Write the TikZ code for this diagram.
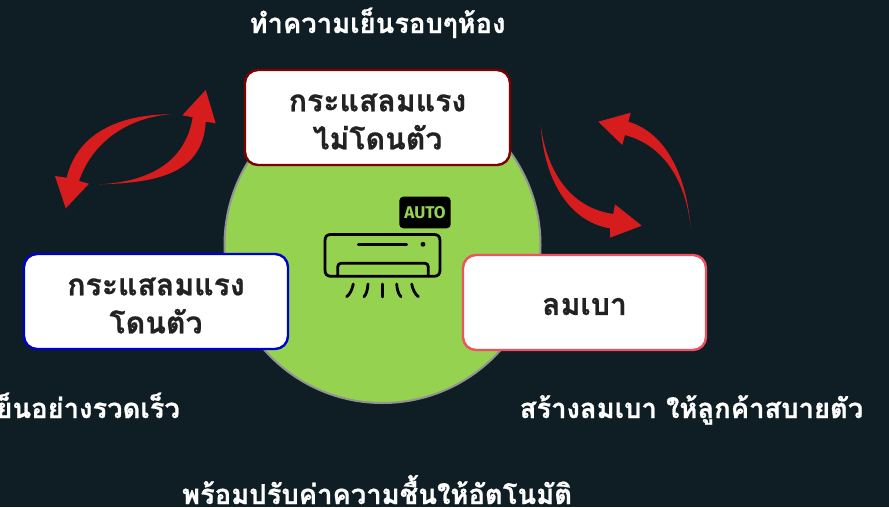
\documentclass[tikz,border=0pt]{standalone}
\usepackage{fontspec}
\setmainfont{Liberation Sans}
\newfontfamily\thaifont[Script=Thai,BoldFeatures={FakeBold=0.7}]{Loma}
\newfontfamily\autofont{Fira Sans}
\definecolor{bgc}{HTML}{0F1E25}
\definecolor{leaf}{HTML}{95D250}
\definecolor{redarrow}{HTML}{D71C1E}
\definecolor{ink}{HTML}{222222}
\definecolor{softred}{RGB}{240,80,95}
\tikzset{
  cardbox/.style={draw,line width=2.4pt,fill=white,rounded corners=13pt,inner sep=0pt},
  cardtext/.style={inner sep=0pt,align=center,text=ink,font=\thaifont\bfseries\fontsize{30.2}{38}\selectfont},
  caption/.style={text=white,inner sep=0pt,font=\thaifont\bfseries\fontsize{27.4}{30}\selectfont},
  swoosh/.style={fill=redarrow,draw=none},
  acline/.style={draw=black,line width=2.8pt,line cap=round,line join=round}
}
\begin{document}
\begin{tikzpicture}[x=1pt,y=-1pt]
\useasboundingbox (0,0) rectangle (889,507);
\clip (0,0) rectangle (889,507);
\fill[bgc] (0,0) rectangle (889,507);
% central disc
\node[circle,draw=gray!85,fill=leaf,line width=2pt,minimum size=316pt,inner sep=0pt] (disc) at (382.5,245) {};
% swooshes
\fill[swoosh] (171.7,114.3) .. controls (125,114) and (78,130) .. (66.7,177.7) -- (55,176) -- (65.7,208.3) -- (89,183.7) -- (79,181) .. controls (93,140) and (130,117) .. cycle;
\fill[swoosh] (99.3,184.3) .. controls (145,182) and (185,165) .. (192.7,117.3) -- (182.3,115.3) -- (205.7,90) -- (215.7,123.3) -- (205.7,121.7) .. controls (203,172) and (160,183) .. cycle;
\fill[swoosh] (540.7,126) .. controls (548,175) and (572,208) .. (613.3,214) -- (615,204.3) -- (641.7,225.7) -- (610,237.7) -- (610,228.3) .. controls (572,222) and (545,185) .. cycle;
\fill[swoosh] (690.7,228.3) .. controls (687,178) and (667,133) .. (628.3,121.7) -- (630.7,112.7) -- (598.3,121.7) -- (622.3,145) -- (625,135) .. controls (663,145) and (686,180) .. cycle;
% air conditioner
\draw[acline] (331,234.5) -- (434,234.5) .. controls (438,234.5) and (440,236.5) .. (440,240.5) -- (440,270) .. controls (440,274) and (438,276.3) .. (434,276.3) -- (331,276.3) .. controls (327,276.3) and (325,274) .. (325,270) -- (325,240.5) .. controls (325,236.5) and (327,234.5) .. (331,234.5) -- cycle;
\draw[acline] (337.7,275.5) -- (337.7,267) .. controls (337.7,264.5) and (339,263.3) .. (341,263.3) -- (425,263.3) .. controls (427,263.3) and (428.3,264.5) .. (428.3,267) -- (428.3,275.5);
\draw[acline] (358.3,244.3) -- (406.7,244.3);
\fill[black] (423,244.3) circle (2.4pt);
\draw[acline] (353.3,284) .. controls (352,290) and (350,294) .. (346.7,296.7);
\draw[acline] (368,284) .. controls (367.5,290) and (366.5,294) .. (364,296.7);
\draw[acline] (382.3,284) -- (382.3,297);
\draw[acline] (396.7,284) .. controls (397,290) and (398.5,294) .. (401,296.7);
\draw[acline] (411.7,284) .. controls (412.5,289) and (415,294) .. (418.3,296.7);
\node[fill=black,rounded corners=4pt,minimum width=51.4pt,minimum height=31.6pt,inner sep=0pt,text=leaf,font=\autofont\bfseries\fontsize{17}{17}\selectfont] (auto) at (425,212.5) {AUTO};
% cards
\node[cardbox,draw=red!50!black,minimum width=265pt,minimum height=95pt] (top) at (377.5,117.5) {};
\node[cardtext,yshift=-4pt] (toptext) at (top) {กระแสลมแรง\\ไม่โดนตัว};
\node[cardbox,draw=blue!80!black,minimum width=264pt,minimum height=95pt] (left) at (156,301.5) {};
\node[cardtext,yshift=-4pt] (lefttext) at (left) {กระแสลมแรง\\โดนตัว};
\node[cardbox,draw=softred,minimum width=243pt,minimum height=95pt] (right) at (584.5,302.5) {};
\node[cardtext,yshift=-4pt] (righttext) at (right) {ลมเบา};
% captions
\node[caption,anchor=base] (c1) at (377.5,33) {ทำความเย็นรอบๆห้อง};
\node[caption,anchor=base east] (c2) at (180,418) {เย็นอย่างรวดเร็ว};
\node[caption,anchor=base] (c3) at (691.5,418) {สร้างลมเบา ให้ลูกค้าสบายตัว};
\node[caption,anchor=base] (c4) at (377,504) {พร้อมปรับค่าความชื้นให้อัตโนมัติ};
\end{tikzpicture}
\end{document}
